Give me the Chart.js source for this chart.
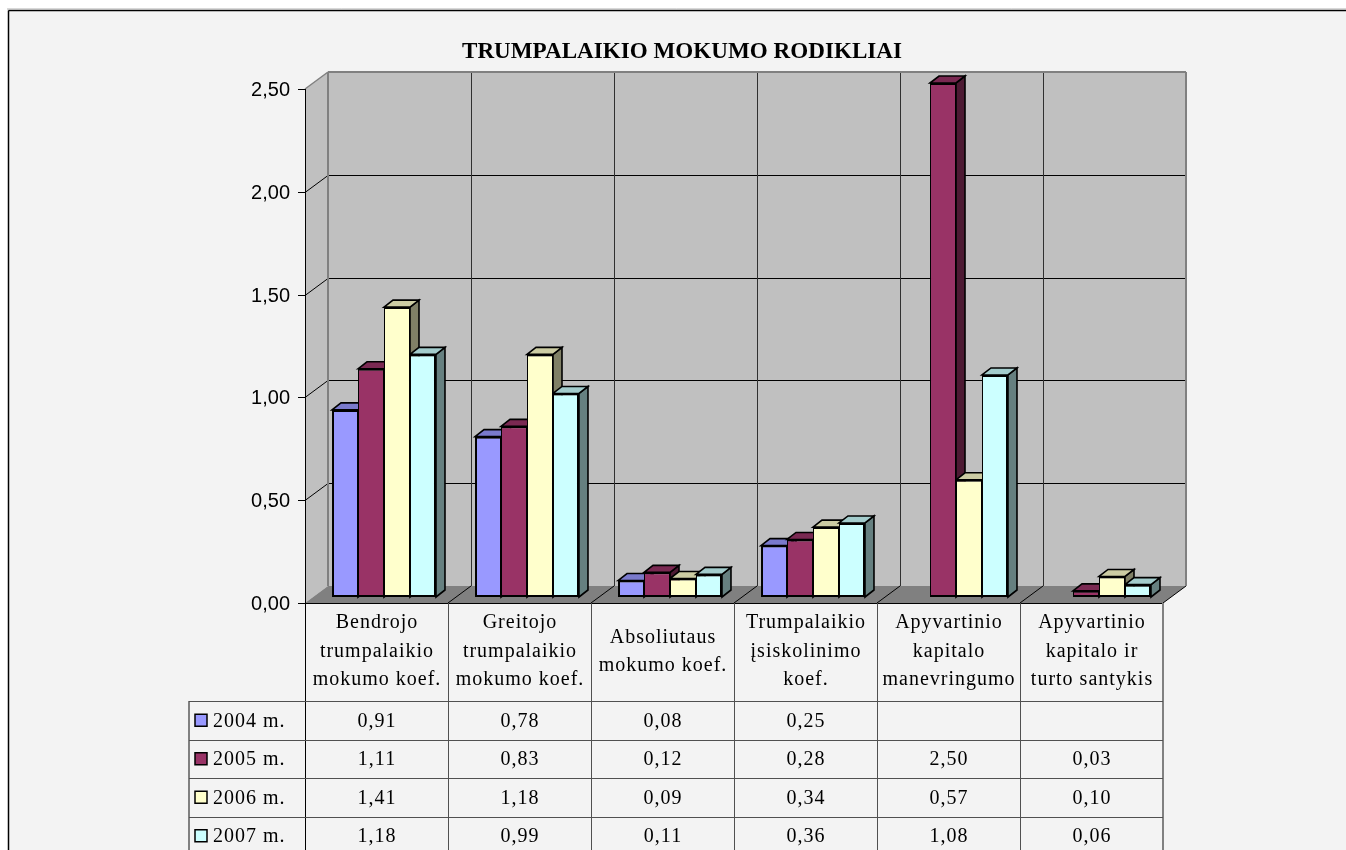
<!DOCTYPE html>
<html>
<head>
<meta charset="utf-8">
<title>Trumpalaikio mokumo rodikliai</title>
<script src="https://cdn.jsdelivr.net/npm/chart.js@4.4.0/dist/chart.umd.min.js"></script>
<style>
  html, body { margin: 0; padding: 0; background: #ffffff; overflow: hidden; }
  canvas { display: block; }
</style>
</head>
<body>
<canvas id="chart" width="1346" height="850"></canvas>
<script>
// ---- data ----
const chartTitle = 'TRUMPALAIKIO MOKUMO RODIKLIAI';
const categories = [
  ['Bendrojo', 'trumpalaikio', 'mokumo koef.'],
  ['Greitojo', 'trumpalaikio', 'mokumo koef.'],
  ['Absoliutaus', 'mokumo koef.'],
  ['Trumpalaikio', 'įsiskolinimo', 'koef.'],
  ['Apyvartinio', 'kapitalo', 'manevringumo'],
  ['Apyvartinio', 'kapitalo ir', 'turto santykis']
];
const seriesNames = ['2004 m.', '2005 m.', '2006 m.', '2007 m.'];
const values2004 = [0.91, 0.78, 0.08, 0.25, null, null];
const values2005 = [1.11, 0.83, 0.12, 0.28, 2.50, 0.03];
const values2006 = [1.41, 1.18, 0.09, 0.34, 0.57, 0.10];
const values2007 = [1.18, 0.99, 0.11, 0.36, 1.08, 0.06];
const yTicks = [0, 0.5, 1, 1.5, 2, 2.5];

// ---- styles ----
const frontColors = ['#9999FF', '#993366', '#FFFFCC', '#CCFFFF'];
const topColors   = ['#7A7ACC', '#7A2952', '#CCCCA3', '#A3CCCC'];
const sideColors  = ['#4D4D80', '#4D1A33', '#808066', '#668080'];

const SERIF = '"Liberation Serif", "Times New Roman", serif';
const SANS  = '"Liberation Sans", Arial, sans-serif';

// oblique projection offsets relative to the plane the bars stand in
const FRONT = { dx: -7.5, dy: 6 };    // front edge of the floor / axis plane
const BACK  = { dx: 15.5, dy: -11 };  // back wall plane
const BAR_DEPTH = { dx: 9, dy: -7 };  // visible depth of each column

const fmt = v => (v === null || v === undefined) ? '' : v.toFixed(2).replace('.', ',');

function poly(ctx, pts, fill, stroke, lw) {
  ctx.beginPath();
  ctx.moveTo(pts[0][0], pts[0][1]);
  for (let i = 1; i < pts.length; i++) ctx.lineTo(pts[i][0], pts[i][1]);
  ctx.closePath();
  if (fill) { ctx.fillStyle = fill; ctx.fill(); }
  if (stroke) { ctx.strokeStyle = stroke; ctx.lineWidth = lw || 1; ctx.stroke(); }
}
function line(ctx, x1, y1, x2, y2, color, lw) {
  ctx.beginPath();
  ctx.moveTo(x1, y1);
  ctx.lineTo(x2, y2);
  ctx.strokeStyle = color;
  ctx.lineWidth = lw || 1;
  ctx.stroke();
}

// page background and outer frame
const framePlugin = {
  id: 'frame',
  beforeDraw(chart) {
    const ctx = chart.ctx;
    ctx.save();
    ctx.fillStyle = '#ffffff';
    ctx.fillRect(0, 0, chart.width, chart.height);
    ctx.fillStyle = '#F3F3F3';
    ctx.fillRect(8, 10, chart.width, chart.height);
    line(ctx, 8.5, chart.height, 8.5, 10.5, '#000000', 1.5);
    line(ctx, 8.5, 10.5, chart.width, 10.5, '#000000', 1.5);
    line(ctx, 7, 9, chart.width, 9, '#B0B0B0', 1);
    ctx.restore();
  }
};

// walls, floor, gridlines and the 3D faces of the columns
const wallsPlugin = {
  id: 'walls3d',
  beforeDatasetsDraw(chart) {
    const ctx = chart.ctx;
    const ys = chart.scales.y;
    const L = chart.chartArea.left, R = chart.chartArea.right;
    const y0 = ys.getPixelForValue(yTicks[0]);
    const yT = ys.getPixelForValue(yTicks[yTicks.length - 1]);
    const fx = p => p + FRONT.dx, fy = p => p + FRONT.dy;
    const bx = p => p + BACK.dx,  by = p => p + BACK.dy;
    const n = chart.data.labels.length;
    const cw = (R - L) / n;

    ctx.save();
    // side wall
    poly(ctx, [[fx(L), fy(y0)], [fx(L), fy(yT)], [bx(L), by(yT)], [bx(L), by(y0)]], '#C0C0C0');
    // back wall
    ctx.fillStyle = '#C0C0C0';
    ctx.fillRect(bx(L), by(yT), bx(R) - bx(L), by(y0) - by(yT));
    // floor
    poly(ctx, [[fx(L), fy(y0)], [fx(R), fy(y0)], [bx(R), by(y0)], [bx(L), by(y0)]], '#808080');

    // value gridlines: diagonal on the side wall, horizontal on the back wall
    for (let i = 1; i < yTicks.length - 1; i++) {
      const p = Math.round(ys.getPixelForValue(yTicks[i])) + 0.5;
      line(ctx, fx(L), fy(p), bx(L), by(p), '#000000', 1);
      line(ctx, bx(L), by(p), bx(R), by(p), '#000000', 1);
    }
    // category gridlines on the back wall, diagonals on the floor
    for (let k = 1; k <= n; k++) {
      const b = L + k * cw;
      if (k < n) line(ctx, Math.round(bx(b)) + 0.5, by(yT), Math.round(bx(b)) + 0.5, by(y0), '#303030', 1);
      line(ctx, fx(b), fy(y0), bx(b), by(y0), '#000000', 1);
    }
    // wall borders
    ctx.lineJoin = 'miter';
    line(ctx, fx(L), fy(yT), bx(L), by(yT), '#808080', 1.5);
    line(ctx, bx(L), by(yT), bx(R), by(yT), '#808080', 2);
    line(ctx, bx(L), by(yT), bx(L), by(y0), '#808080', 2);
    line(ctx, bx(R), by(yT), bx(R), by(y0), '#808080', 2);

    // column tops and right-hand sides (front faces are drawn by Chart.js)
    for (let j = 0; j < n; j++) {
      chart.data.datasets.forEach((ds, i) => {
        if (ds.data[j] === null || ds.data[j] === undefined) return;
        const el = chart.getDatasetMeta(i).data[j];
        const l = el.x - el.width / 2, r = el.x + el.width / 2;
        const t = el.y, b = el.base;
        const dx = BAR_DEPTH.dx, dy = BAR_DEPTH.dy;
        poly(ctx, [[r, t], [r + dx, t + dy], [r + dx, b + dy], [r, b]], sideColors[i], '#000000', 1.6);
        poly(ctx, [[l, t], [l + dx, t + dy], [r + dx, t + dy], [r, t]], topColors[i], '#000000', 1.6);
      });
    }
    ctx.restore();
  }
};

// value axis, title and the data table below the plot
const tablePlugin = {
  id: 'dataTable',
  afterDraw(chart) {
    const ctx = chart.ctx;
    const ys = chart.scales.y;
    const L = chart.chartArea.left, R = chart.chartArea.right;
    const n = chart.data.labels.length;
    const cw = (R - L) / n;
    const y0 = ys.getPixelForValue(yTicks[0]);
    const yT = ys.getPixelForValue(yTicks[yTicks.length - 1]);
    const axisX = L + FRONT.dx;
    const tableTop = y0 + FRONT.dy;
    const headerBottom = 701;
    const rowH = 38.5;
    const legendLeft = 189;

    ctx.save();
    // title
    ctx.fillStyle = '#000000';
    ctx.font = 'bold 24px ' + SERIF;
    ctx.textAlign = 'center';
    ctx.textBaseline = 'alphabetic';
    ctx.fillText(chartTitle, 682, 58, 440);

    // value axis
    const bottom = chart.height + 5;
    line(ctx, axisX + 0.5, yT + FRONT.dy, axisX + 0.5, bottom, '#000000', 1);
    ctx.font = '20px ' + SANS;
    ctx.textAlign = 'right';
    ctx.textBaseline = 'middle';
    yTicks.forEach(v => {
      const p = Math.round(ys.getPixelForValue(v) + FRONT.dy) + 0.5;
      line(ctx, axisX - 7, p, axisX + 0.5, p, '#000000', 1);
      ctx.fillText(fmt(v), axisX - 15, p + 1);
    });

    // table grid
    const tableRight = R + FRONT.dx;
    line(ctx, axisX, tableTop + 0.5, tableRight, tableTop + 0.5, '#000000', 1.2);
    for (let k = 1; k < n; k++) {
      const x = Math.round(L + k * cw + FRONT.dx) + 0.5;
      line(ctx, x, tableTop, x, bottom, '#505050', 1);
    }
    line(ctx, tableRight, tableTop, tableRight, bottom, '#808080', 2);
    line(ctx, legendLeft, headerBottom, legendLeft, bottom, '#808080', 2);
    for (let r = 0; r < seriesNames.length; r++) {
      const y = Math.round(headerBottom + r * rowH) + 0.5;
      line(ctx, legendLeft, y, tableRight, y, '#505050', 1);
    }

    // category headers
    ctx.fillStyle = '#000000';
    ctx.font = '20px ' + SERIF;
    ctx.letterSpacing = '1px';
    ctx.textAlign = 'center';
    ctx.textBaseline = 'alphabetic';
    const lineH = 28.3;
    chart.data.labels.forEach((lab, k) => {
      const cx = L + (k + 0.5) * cw + FRONT.dx;
      const lines = Array.isArray(lab) ? lab : [lab];
      const first = 656.7 - (lines.length - 1) / 2 * lineH;
      lines.forEach((t, li) => ctx.fillText(t, cx + 0.5, first + li * lineH));
    });

    // legend keys and values
    chart.data.datasets.forEach((ds, i) => {
      const cy = headerBottom + (i + 0.5) * rowH;
      ctx.fillStyle = frontColors[i];
      ctx.fillRect(195, cy - 6, 12, 12);
      ctx.strokeStyle = '#000000';
      ctx.lineWidth = 1.5;
      ctx.strokeRect(195, cy - 6, 12, 12);
      ctx.fillStyle = '#000000';
      ctx.textAlign = 'left';
      ctx.textBaseline = 'middle';
      ctx.fillText(ds.label, 213, cy + 1);
      ctx.textAlign = 'center';
      ds.data.forEach((v, k) => {
        const cx = L + (k + 0.5) * cw + FRONT.dx;
        ctx.fillText(fmt(v), cx + 0.5, cy + 1);
      });
    });
    ctx.restore();
  }
};

const seriesValues = [values2004, values2005, values2006, values2007];
const datasets = seriesNames.map((name, i) => ({
  label: name,
  data: seriesValues[i],
  backgroundColor: frontColors[i],
  borderColor: '#000000',
  borderWidth: { top: 2, bottom: 2, left: i === 0 ? 2 : 1, right: i === seriesNames.length - 1 ? 2 : 1 },
  borderSkipped: false,
  categoryPercentage: 0.727,
  barPercentage: 1.0
}));

new Chart(document.getElementById('chart'), {
  type: 'bar',
  data: { labels: categories, datasets: datasets },
  options: {
    responsive: false,
    animation: false,
    events: [],
    layout: { padding: { left: 312.5, right: 175.5, top: 83, bottom: 253 } },
    scales: {
      x: { display: false },
      y: { display: false, min: yTicks[0], max: yTicks[yTicks.length - 1] }
    },
    plugins: {
      legend: { display: false },
      title: { display: false },
      tooltip: { enabled: false }
    }
  },
  plugins: [framePlugin, wallsPlugin, tablePlugin]
});
</script>
</body>
</html>
